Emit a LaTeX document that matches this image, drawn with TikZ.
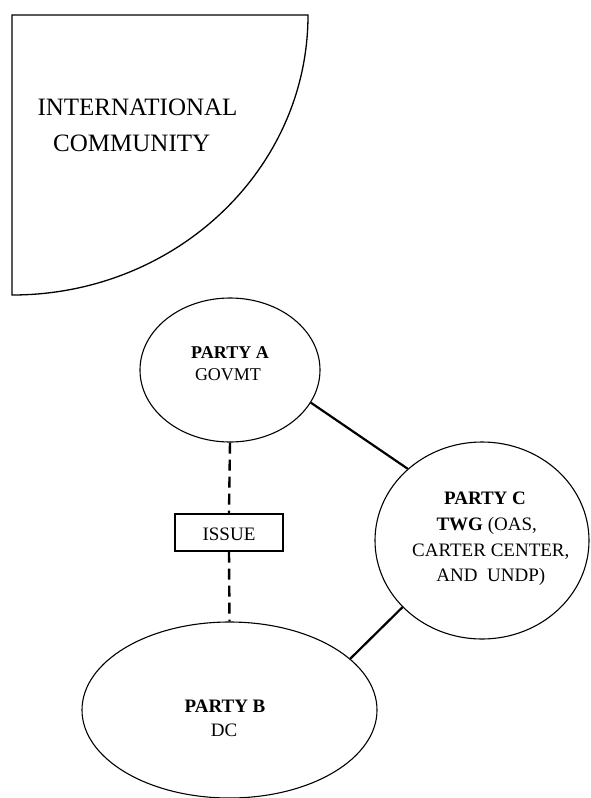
\documentclass[tikz,border=0pt]{standalone}
\usepackage{fontspec}
\setmainfont{Liberation Serif}
\usetikzlibrary{shapes.geometric}
\begin{document}
\begin{tikzpicture}[x=1pt,y=-1pt,
  party/.style={draw, ellipse, line width=1.1pt, inner sep=0pt},
  connector/.style={line width=2.2pt},
  dashconn/.style={line width=2.4pt, dash pattern=on 11pt off 6pt},
  issuebox/.style={draw, line width=1.1pt, inner sep=0pt, minimum width=108pt, minimum height=37pt},
  txt/.style={anchor=base, inner sep=0pt},
  ictxt/.style={txt, font=\fontsize{25}{30}\selectfont},
  ptxt/.style={txt, font=\fontsize{19}{24}\selectfont},
  atxt/.style={txt, font=\fontsize{18}{22}\selectfont}
]
\useasboundingbox (0,0) rectangle (590,798);
% International community shape
\draw[line width=1.3pt] (12,15) -- (12,295)
  arc[start angle=-90, end angle=0, x radius=296pt, y radius=280pt] -- cycle;
\node[ictxt] (ic1) at (137.5,115) {INTERNATIONAL};
\node[ictxt] (ic2) at (131.7,151.7) {COMMUNITY};
% parties
\node[party, minimum width=180pt, minimum height=144pt] (A) at (230,370) {};
\node[party, minimum width=214pt, minimum height=197pt] (C) at (482,540.5) {};
\node[party, minimum width=295pt, minimum height=176pt] (B) at (229.5,710) {};
\node[issuebox] (I) at (229,532.5) {};
% texts
\node[atxt] (a1) at (230,358) {\textbf{PARTY A}};
\node[atxt] (a2) at (228,380) {GOVMT};
\node[ptxt] (c1) at (485,504) {\textbf{PARTY C}};
\node[ptxt] (c2) at (486.7,530.7) {\textbf{TWG} (OAS,};
\node[ptxt] (c3) at (490.8,556) {CARTER CENTER,};
\node[ptxt] (c4) at (490.8,581.7) {AND\ \ UNDP)};
\node[ptxt] (b1) at (225,712.7) {\textbf{PARTY B}};
\node[ptxt] (b2) at (224,736.7) {DC};
\node[ptxt] (i1) at (229,540) {ISSUE};
% connectors
\draw[connector] (A.-22.4) -- (C.136.4);
\draw[connector] (C.220.5) -- (B.23.5);
\draw[dashconn] (A.south) -- (I.north);
\draw[dashconn] (I.south) -- (B.north);
\end{tikzpicture}
\end{document}
